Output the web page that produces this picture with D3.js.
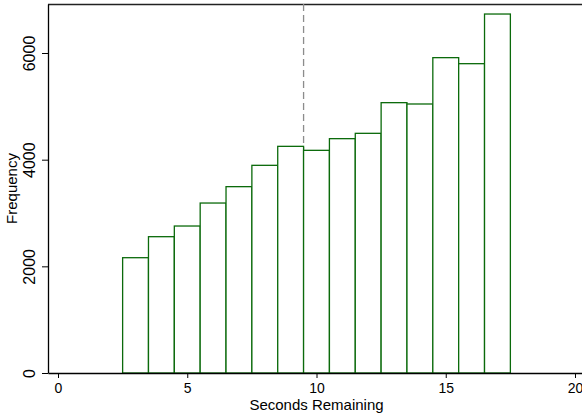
<!DOCTYPE html>
<html>
<head>
<meta charset="utf-8">
<script src="https://cdn.jsdelivr.net/npm/d3@7"></script>
<style>
  body { margin: 0; background: #fff; }
  text { font-family: "Liberation Sans", Arial, sans-serif; fill: #000; }
</style>
</head>
<body>
<div id="chart"></div>
<script>
// histogram bins (left edge, width 1) and counts
var binStarts = [2.5, 3.5, 4.5, 5.5, 6.5, 7.5, 8.5, 9.5, 10.5, 11.5, 12.5, 13.5, 14.5, 15.5, 16.5];
var counts = [2162, 2556, 2756, 3187, 3494, 3894, 4250, 4175, 4394, 4494, 5069, 5044, 5913, 5800, 6731];
var binWidth = 1;
var xTicks = [0, 5, 10, 15, 20];
var yTicks = [0, 2000, 4000, 6000];
var refLine = [9.5];
var xTitle = "Seconds Remaining";
var yTitle = "Frequency";

var width = 582, height = 418;
var margin = {left: 48, top: 4, right: -3, bottom: 45};

var svg = d3.select("#chart").append("svg")
    .attr("width", width)
    .attr("height", height);

var x = d3.scaleLinear()
    .domain([-0.387, 20.387])
    .range([margin.left, width - margin.right]);

var y = d3.scaleLinear()
    .domain([0, 6919])
    .range([height - margin.bottom, margin.top]);

var bins = binStarts.map(function(d, i) {
    return {x0: d, x1: d + binWidth, n: counts[i]};
});

// top border of plot region
svg.append("line")
    .attr("x1", x.range()[0]).attr("x2", x.range()[1])
    .attr("y1", y.range()[1] + 0.5).attr("y2", y.range()[1] + 0.5)
    .attr("stroke", "#222").attr("stroke-width", 1.3);

// dashed reference line
svg.selectAll(".ref").data(refLine).enter().append("line")
    .attr("class", "ref")
    .attr("x1", function(d) { return x(d); })
    .attr("x2", function(d) { return x(d); })
    .attr("y1", y.range()[1])
    .attr("y2", y.range()[0])
    .attr("stroke", "#8c8c8c")
    .attr("stroke-width", 1.3)
    .attr("stroke-dasharray", "7,4");

// bars
svg.selectAll(".bar").data(bins).enter().append("rect")
    .attr("class", "bar")
    .attr("x", function(d) { return x(d.x0); })
    .attr("y", function(d) { return y(d.n); })
    .attr("width", function(d) { return x(d.x1) - x(d.x0); })
    .attr("height", function(d) { return y(0) - y(d.n); })
    .attr("fill", "#fff")
    .attr("stroke", "#0b6a0b")
    .attr("stroke-width", 1.3);

// x axis
var xAxis = svg.append("g")
    .attr("transform", "translate(0," + y(0) + ")")
    .call(d3.axisBottom(x).tickValues(xTicks).tickSize(5).tickPadding(5).tickSizeOuter(0));
xAxis.select(".domain").attr("stroke", "#000").attr("stroke-width", 1.3);
xAxis.selectAll(".tick line").attr("stroke", "#000");
xAxis.selectAll(".tick text")
    .attr("font-size", "14px")
    .attr("font-family", "Liberation Sans, Arial, sans-serif");

// y axis, labels rotated like Stata
var yAxis = svg.append("g")
    .attr("transform", "translate(" + x.range()[0] + ",0)")
    .call(d3.axisLeft(y).tickValues(yTicks).tickFormat(d3.format("d")).tickSize(6).tickSizeOuter(0));
yAxis.select(".domain").attr("stroke", "#000").attr("stroke-width", 1.3);
yAxis.selectAll(".tick line").attr("stroke", "#000");
yAxis.selectAll(".tick text")
    .attr("font-size", "16px")
    .attr("font-family", "Liberation Sans, Arial, sans-serif")
    .attr("text-anchor", "middle")
    .attr("x", 0).attr("dy", 0)
    .attr("transform", "translate(-13.5,0) rotate(-90)");

// axis titles
svg.append("text")
    .attr("x", (x.range()[0] + x.range()[1]) / 2)
    .attr("y", 409.5)
    .attr("text-anchor", "middle")
    .attr("font-size", "15px")
    .text(xTitle);

svg.append("text")
    .attr("transform", "translate(17," + (y.range()[0] + y.range()[1]) / 2 + ") rotate(-90)")
    .attr("text-anchor", "middle")
    .attr("font-size", "15px")
    .text(yTitle);
</script>
</body>
</html>
